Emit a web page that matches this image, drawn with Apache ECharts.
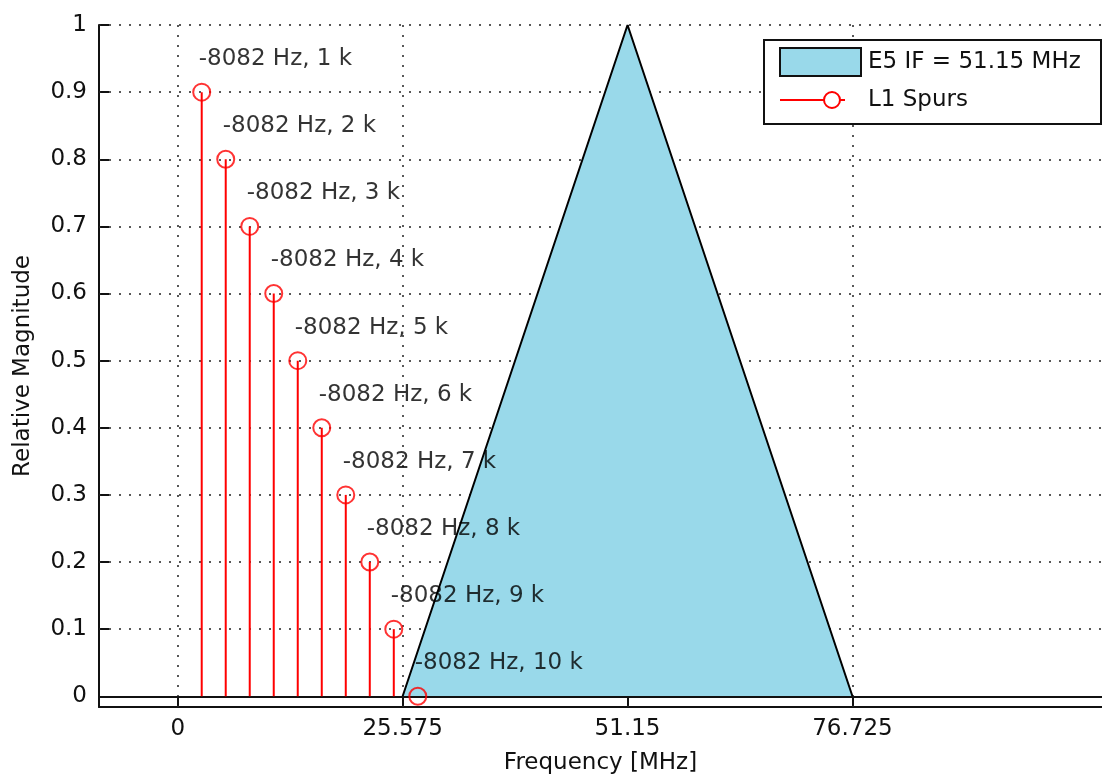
<!DOCTYPE html>
<html>
<head>
<meta charset="utf-8">
<script src="https://cdn.jsdelivr.net/npm/echarts@6/dist/echarts.min.js"></script>
<style>
  html, body { margin: 0; padding: 0; background: #fff; }
  #chart { width: 1102px; height: 780px; }
</style>
</head>
<body>
<div id="chart"></div>
<script>
// ---- data ----
const spurFreq = [2.73, 5.46, 8.19, 10.92, 13.65, 16.38, 19.11, 21.84, 24.57, 27.30];
const spurMag = [0.9, 0.8, 0.7, 0.6, 0.5, 0.4, 0.3, 0.2, 0.1, 0];
const spurLabels = ['-8082 Hz, 1 k', '-8082 Hz, 2 k', '-8082 Hz, 3 k', '-8082 Hz, 4 k', '-8082 Hz, 5 k',
                    '-8082 Hz, 6 k', '-8082 Hz, 7 k', '-8082 Hz, 8 k', '-8082 Hz, 9 k', '-8082 Hz, 10 k'];
const ifFreq = [25.575, 51.15, 76.725];
const ifMag = [0, 1, 0];
const xTicks = [0, 25.575, 51.15, 76.725];
const xTickLabels = ['0', '25.575', '51.15', '76.725'];
const yTicks = [0, 0.1, 0.2, 0.3, 0.4, 0.5, 0.6, 0.7, 0.8, 0.9, 1];
const yTickLabels = ['0', '0.1', '0.2', '0.3', '0.4', '0.5', '0.6', '0.7', '0.8', '0.9', '1'];
const legendNames = ['E5 IF = 51.15 MHz', 'L1 Spurs'];

const FONT = 'DejaVu Sans';
const FS = 23;
const chart = echarts.init(document.getElementById('chart'), null, { renderer: 'canvas' });

const spurData = spurFreq.map((f, i) => [f, spurMag[i]]);
const ifData = ifFreq.map((f, i) => [f, ifMag[i]]);
const gridDots = { type: [2, 8], color: '#222', width: 1.5 };

const option = {
  animation: false,
  backgroundColor: '#fff',
  grid: { left: 99, right: 0, top: 25, bottom: 69, containLabel: false },
  xAxis: {
    type: 'value', min: -8.95, max: 105.1,
    name: 'Frequency [MHz]', nameLocation: 'middle', nameGap: 45,
    nameTextStyle: { fontFamily: FONT, fontSize: FS, color: '#111' },
    axisLine: { onZero: false, lineStyle: { color: '#111', width: 2 } },
    axisTick: { inside: true, length: 10, customValues: xTicks, lineStyle: { color: '#111', width: 2 } },
    axisLabel: { customValues: xTicks, margin: 11, fontFamily: FONT, fontSize: FS, color: '#111',
      formatter: v => { const i = xTicks.findIndex(t => Math.abs(t - v) < 1e-6); return i >= 0 ? xTickLabels[i] : ''; } },
    splitLine: { show: false }
  },
  yAxis: {
    type: 'value', min: -0.016, max: 1,
    name: 'Relative Magnitude', nameLocation: 'middle', nameGap: 64,
    nameTextStyle: { fontFamily: FONT, fontSize: FS, color: '#111' },
    axisLine: { onZero: false, lineStyle: { color: '#111', width: 2 } },
    axisTick: { inside: true, length: 10, customValues: yTicks, lineStyle: { color: '#111', width: 2 } },
    axisLabel: { customValues: yTicks, margin: 12, fontFamily: FONT, fontSize: FS, color: '#111',
      formatter: v => { const i = yTicks.findIndex(t => Math.abs(t - v) < 1e-6); return i >= 0 ? yTickLabels[i] : ''; } },
    splitLine: { show: false }
  },
  series: [
    {
      name: legendNames[0], type: 'line', data: ifData, symbol: 'none', z: 2,
      lineStyle: { color: '#000', width: 2 },
      areaStyle: { color: '#99d9ea', opacity: 1 },
      markLine: {
        z: 1, silent: true, symbol: ['none', 'none'], label: { show: false },
        lineStyle: gridDots, emphasis: { disabled: true },
        data: xTicks.map(v => ({ xAxis: v })).concat(yTicks.slice(1).map(v => ({ yAxis: v })))
      }
    },
    {
      name: legendNames[1] + ' stems', type: 'custom', data: spurData, z: 3,
      renderItem: (params, api) => {
        const p0 = api.coord([api.value(0), 0]);
        const p1 = api.coord([api.value(0), api.value(1)]);
        return { type: 'line', shape: { x1: p0[0], y1: p0[1], x2: p1[0], y2: p1[1] },
                 style: { stroke: '#ff0000', lineWidth: 2 } };
      },
      markLine: {
        z: 3, silent: true, symbol: ['none', 'none'], label: { show: false },
        lineStyle: { type: 'solid', color: '#111', width: 2 }, emphasis: { disabled: true },
        data: [{ yAxis: 0 }]
      }
    },
    {
      name: legendNames[1], type: 'scatter', data: spurData, z: 4,
      symbol: 'circle', symbolSize: 17,
      itemStyle: { color: 'rgba(0,0,0,0)', borderColor: '#ff0000', borderWidth: 2 },
      label: {
        show: true, position: [6.5, -23.5], align: 'left', verticalAlign: 'middle',
        fontFamily: FONT, fontSize: FS, color: '#000',
        formatter: p => spurLabels[p.dataIndex]
      }
    }
  ],
  graphic: [
    { type: 'rect', z: 100, shape: { x: 764, y: 40, width: 337, height: 84 },
      style: { fill: '#fff', stroke: '#111', lineWidth: 2 } },
    { type: 'rect', z: 101, shape: { x: 780, y: 48, width: 81, height: 28 },
      style: { fill: '#99d9ea', stroke: '#111', lineWidth: 2 } },
    { type: 'text', z: 101, x: 868, y: 62,
      style: { text: legendNames[0], font: FS + 'px "' + FONT + '"', fill: '#111', align: 'left', verticalAlign: 'middle' } },
    { type: 'line', z: 101, shape: { x1: 780, y1: 100, x2: 845, y2: 100 },
      style: { stroke: '#ff0000', lineWidth: 2 } },
    { type: 'circle', z: 102, shape: { cx: 832, cy: 100, r: 8 },
      style: { fill: '#fff', stroke: '#ff0000', lineWidth: 2 } },
    { type: 'text', z: 101, x: 868, y: 100,
      style: { text: legendNames[1], font: FS + 'px "' + FONT + '"', fill: '#111', align: 'left', verticalAlign: 'middle' } }
  ]
};
chart.setOption(option);
</script>
</body>
</html>
